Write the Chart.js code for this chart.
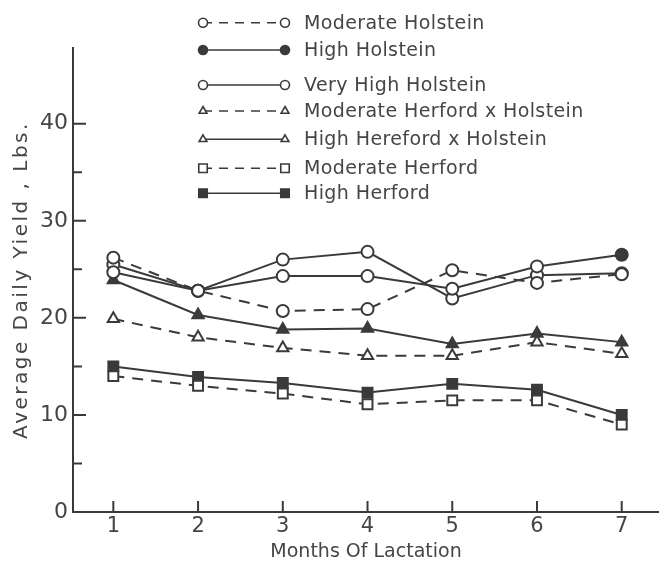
<!DOCTYPE html>
<html><head><meta charset="utf-8">
<script src="https://cdn.jsdelivr.net/npm/chart.js@4.4.0/dist/chart.umd.min.js"></script>
<style>html,body{margin:0;padding:0;background:#fff}#wrap{width:659px;height:563px;position:relative}</style>
</head><body><div id="wrap"><canvas id="c" width="659" height="563"></canvas></div>
<script>
const months = [1, 2, 3, 4, 5, 6, 7];
const yTickValues = [0, 10, 20, 30, 40];
const yMinorTickValues = [5, 15, 25, 35];
const seriesNames = ["Moderate Holstein", "High Holstein", "Very High Holstein",
  "Moderate Herford x Holstein", "High Hereford x Holstein", "Moderate Herford", "High Herford"];
const moderateHolstein = [26.2, 22.8, 20.7, 20.9, 24.9, 23.6, 24.5];
const highHolstein = [24.7, 22.8, 24.3, 24.3, 23.0, 25.3, 26.5];
const veryHighHolstein = [25.5, 22.8, 26.0, 26.8, 22.0, 24.4, 24.6];
const moderateHerefordXHolstein = [19.9, 18.0, 16.9, 16.1, 16.1, 17.5, 16.3];
const highHerefordXHolstein = [23.9, 20.3, 18.8, 18.9, 17.3, 18.4, 17.5];
const moderateHerford = [14.0, 13.0, 12.2, 11.1, 11.5, 11.5, 9.0];
const highHerford = [15.0, 13.9, 13.3, 12.3, 13.2, 12.6, 10.0];
const yTitle = 'Average Daily Yield , Lbs.';
const xTitle = 'Months Of Lactation';

const INK = '#3a3a3a';
const TXT = '#454545';
const FONT = '"DejaVu Sans", sans-serif';
const DASH = [11, 8];

function pts(arr) { return months.map((m, i) => ({ x: m, y: arr[i] })); }

const styles = [
  { data: moderateHolstein, dash: DASH, shape: 'circle', fill: false, r: 6 },
  { data: highHolstein, dash: [], shape: 'circle', fill: 'last', r: 6 },
  { data: veryHighHolstein, dash: [], shape: 'circle', fill: false, r: 6 },
  { data: moderateHerefordXHolstein, dash: DASH, shape: 'triangle', fill: false, r: 6.5 },
  { data: highHerefordXHolstein, dash: [], shape: 'triangle', fill: true, r: 6.5 },
  { data: moderateHerford, dash: DASH, shape: 'rect', fill: false, r: 7 },
  { data: highHerford, dash: [], shape: 'rect', fill: true, r: 7 }
];
const legendFill = [false, true, false, false, false, false, true];
const legendRows = [22.7, 50, 85, 111, 139.3, 168.3, 193.3];

const datasets = styles.map((s, k) => ({
  label: seriesNames[k],
  data: pts(s.data),
  borderColor: INK,
  borderWidth: 2,
  borderDash: s.dash,
  pointStyle: s.shape,
  pointRadius: s.r,
  pointBorderWidth: 2,
  pointBorderColor: INK,
  pointBackgroundColor: s.fill === 'last'
    ? (ctx) => (ctx.dataIndex === months.length - 1 ? INK : '#fff')
    : (s.fill ? INK : '#fff'),
  tension: 0,
  fill: false,
  clip: false
}));

const decor = {
  id: 'decor',
  afterDraw(chart) {
    const ctx = chart.ctx;
    const xs = chart.scales.x, ys = chart.scales.y;
    const x0 = xs.left, y0 = ys.bottom;
    ctx.save();
    ctx.strokeStyle = INK; ctx.lineWidth = 2; ctx.setLineDash([]);
    ctx.beginPath();
    yTickValues.forEach(v => { if (v > 0) { const p = ys.getPixelForValue(v); ctx.moveTo(x0, p); ctx.lineTo(x0 + 13, p); } });
    yMinorTickValues.forEach(v => { const p = ys.getPixelForValue(v); ctx.moveTo(x0, p); ctx.lineTo(x0 + 9, p); });
    months.forEach(m => { const p = xs.getPixelForValue(m); ctx.moveTo(p, y0); ctx.lineTo(p, y0 - 11); });
    ctx.stroke();
    // y title
    ctx.save();
    ctx.fillStyle = TXT;
    ctx.font = '20px ' + FONT;
    ctx.letterSpacing = '2.5px';
    ctx.textAlign = 'center';
    ctx.textBaseline = 'middle';
    ctx.translate(22, (ys.top + ys.bottom) / 2);
    ctx.rotate(-Math.PI / 2);
    ctx.fillText(yTitle, 0, 0);
    ctx.restore();
    // legend
    const lx1 = 203, lx2 = 285, tx = 304;
    ctx.font = '19px ' + FONT;
    ctx.letterSpacing = '0.4px';
    ctx.textBaseline = 'middle';
    ctx.textAlign = 'left';
    styles.forEach((s, k) => {
      const y = legendRows[k];
      ctx.strokeStyle = INK; ctx.lineWidth = 1.6;
      ctx.setLineDash(s.dash.length ? [9, 7] : []);
      ctx.beginPath(); ctx.moveTo(lx1, y); ctx.lineTo(lx2, y); ctx.stroke();
      ctx.setLineDash([]);
      ctx.fillStyle = legendFill[k] ? INK : '#fff';
      [lx1, lx2].forEach(px => {
        Chart.helpers.drawPoint(ctx, { pointStyle: s.shape, radius: s.shape === 'rect' ? 6 : 4.5, rotation: 0, borderWidth: 1.6 }, px, y);
      });
      ctx.fillStyle = TXT;
      ctx.fillText(seriesNames[k], tx, y + 1);
    });
    ctx.restore();
  }
};

new Chart(document.getElementById('c'), {
  type: 'line',
  data: { datasets },
  options: {
    responsive: false,
    animation: false,
    devicePixelRatio: 1,
    layout: { autoPadding: false, padding: { top: 48, right: 0, bottom: 0, left: 0 } },
    plugins: { legend: { display: false }, tooltip: { enabled: false } },
    scales: {
      x: {
        type: 'linear', min: 0.524, max: 7.44,
        afterBuildTicks: (sc) => { sc.ticks = months.map(v => ({ value: v })); },
        afterFit: (sc) => { sc.height = 51; sc.paddingLeft = 0; sc.paddingRight = 0; },
        grid: { display: true, drawOnChartArea: false, drawTicks: false },
        border: { display: true, color: INK, width: 2 },
        ticks: { color: TXT, font: { family: FONT, size: 21 }, padding: 2, maxRotation: 0 },
        title: { display: true, text: xTitle, color: TXT, font: { family: FONT, size: 19 }, padding: 0 }
      },
      y: {
        type: 'linear', min: 0, max: 47.8,
        afterBuildTicks: (sc) => { sc.ticks = yTickValues.map(v => ({ value: v })); },
        afterFit: (sc) => { sc.width = 73; sc.paddingTop = 0; sc.paddingBottom = 0; },
        grid: { display: true, drawOnChartArea: false, drawTicks: false },
        border: { display: true, color: INK, width: 2 },
        ticks: { color: TXT, font: { family: FONT, size: 22 }, padding: 5 },
        title: { display: false }
      }
    }
  },
  plugins: [decor]
});
</script>
</body></html>
